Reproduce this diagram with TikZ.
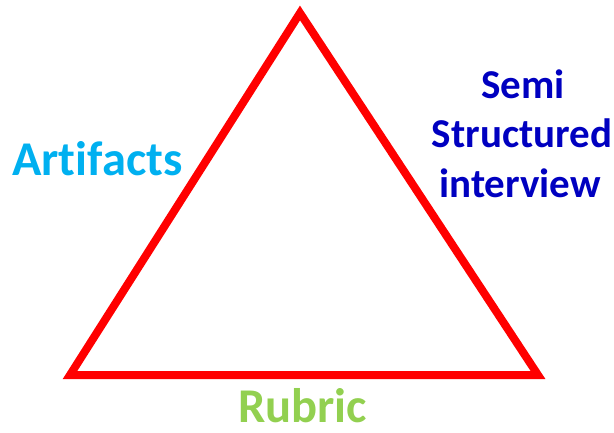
\documentclass[tikz,border=0pt]{standalone}
\usepackage{fontspec}
\setmainfont{Carlito}[Ligatures=NoCommon]
\definecolor{artcyan}{HTML}{00B0F0}
\definecolor{semiblue}{HTML}{0000C0}
\definecolor{rubgreen}{HTML}{92D050}
\begin{document}
\begin{tikzpicture}[x=1pt,y=-1pt,
  lbl/.style={font=\fontsize{48.5}{56}\selectfont\bfseries, inner sep=0pt, anchor=base},
  side/.style={font=\fontsize{41}{49}\selectfont\bfseries, inner sep=0pt, anchor=base},
  edge/.style={draw=red, line width=8pt, line join=miter}]
\useasboundingbox (0,0) rectangle (614,433);
\coordinate (top) at (300,13);
\coordinate (bl) at (70,375);
\coordinate (br) at (538,375);
\draw[edge] (top) -- (br) -- (bl) -- cycle;
\node[lbl, text=artcyan] (art) at (97.5,176) {Artifacts};
\node[side, text=semiblue] (semi) at (523,99) {Semi};
\node[side, text=semiblue] (struct) at (522,148) {Structured};
\node[side, text=semiblue] (inter) at (520,198) {interview};
\node[lbl, text=rubgreen, text depth=0pt] (rub) at (302.5,422) {Rubric};
\end{tikzpicture}
\end{document}
